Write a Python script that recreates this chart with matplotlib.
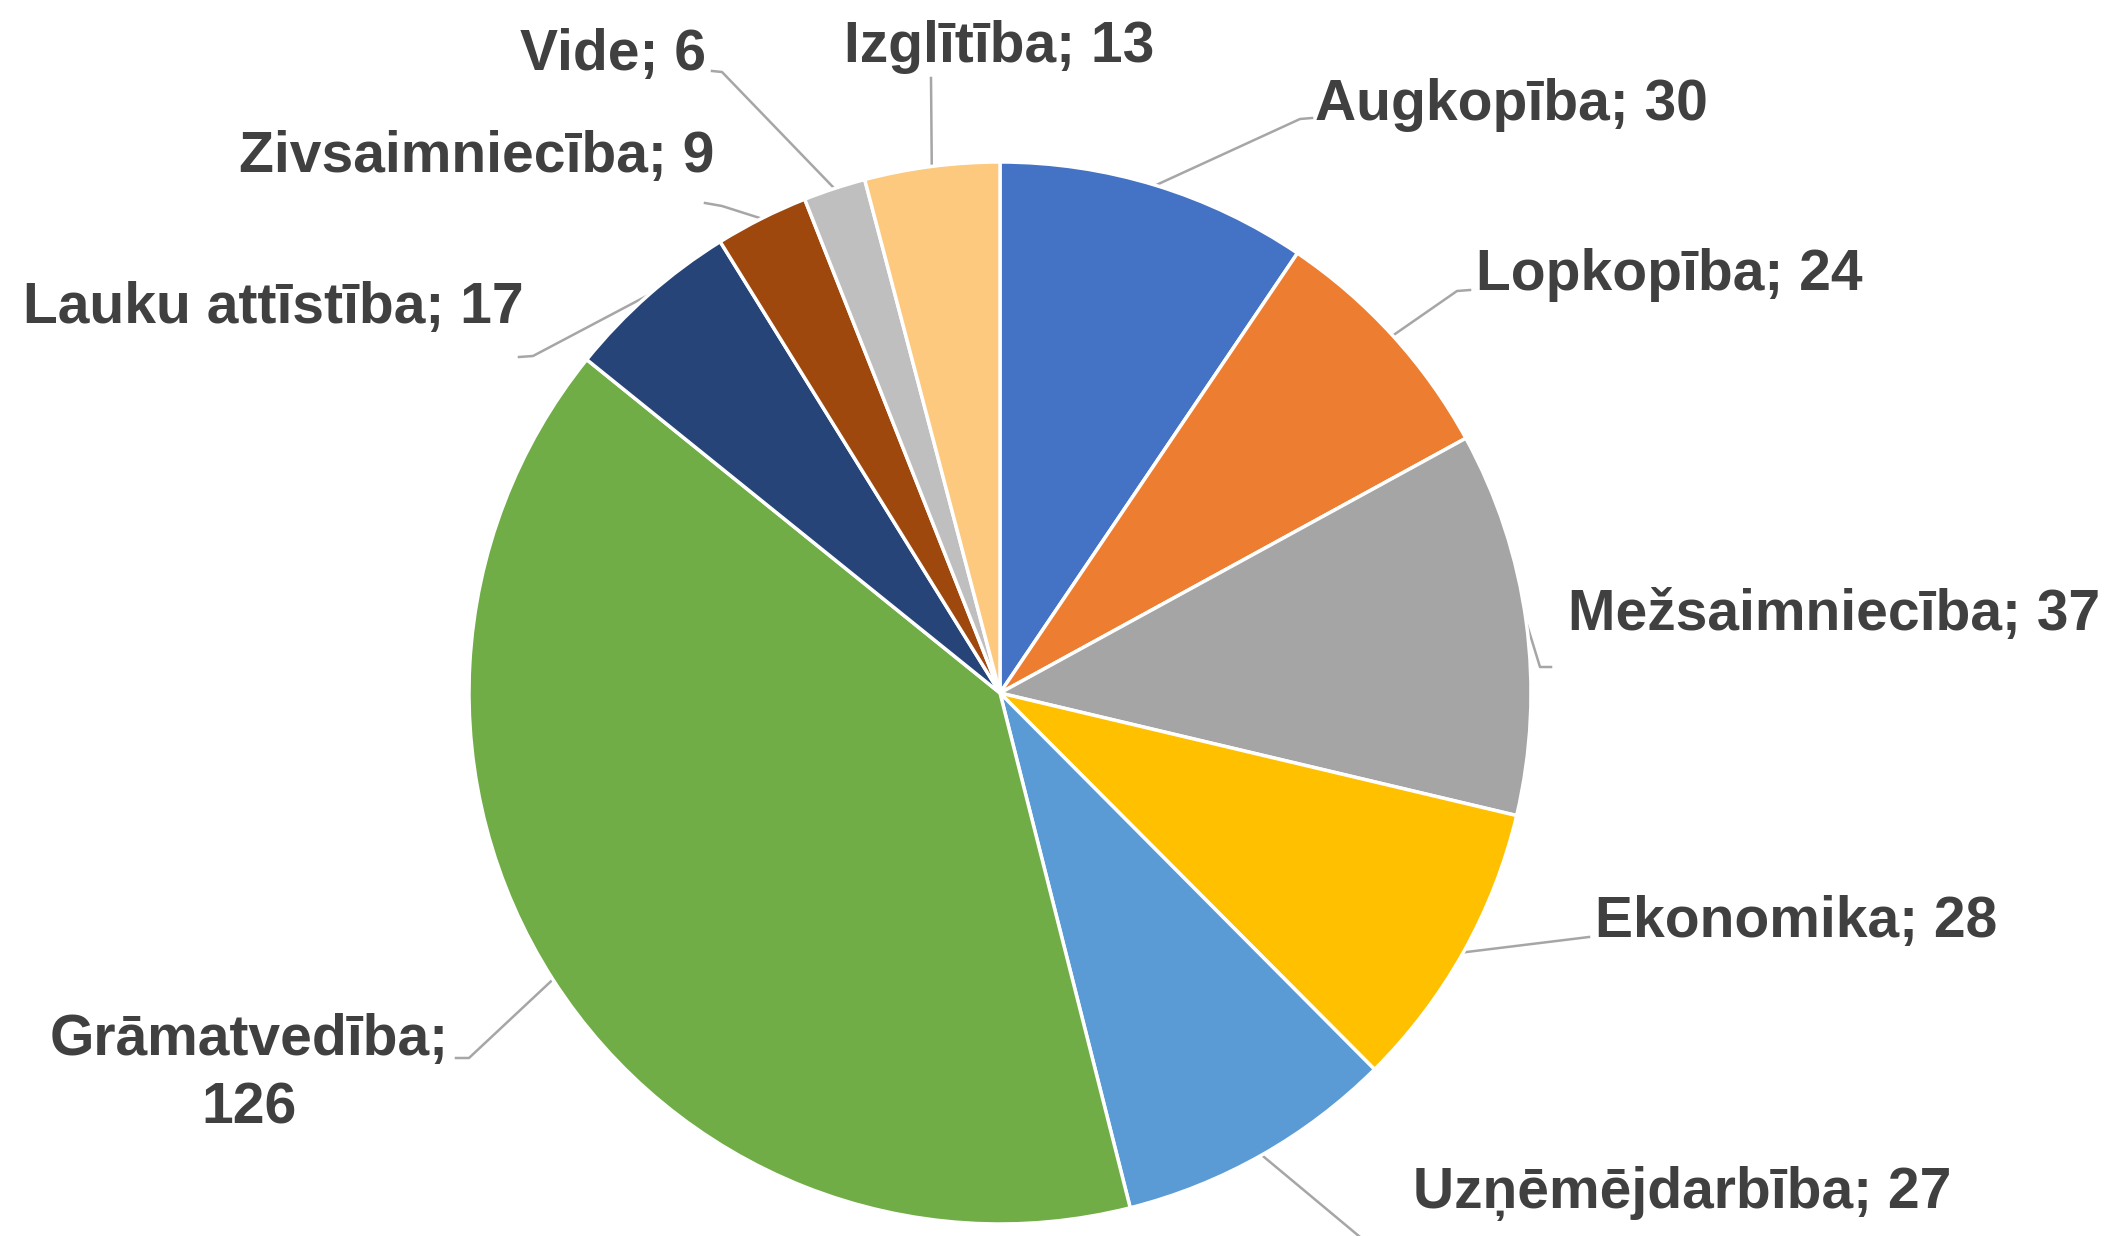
import matplotlib.pyplot as plt
import numpy as np

labels = ['Augkopība', 'Lopkopība', 'Mežsaimniecība', 'Ekonomika', 'Uzņēmējdarbība',
          'Grāmatvedība', 'Lauku attīstība', 'Zivsaimniecība', 'Vide', 'Izglītība']
values = [30, 24, 37, 28, 27, 126, 17, 9, 6, 13]
colors = ['#4472C4', '#ED7D31', '#A5A5A5', '#FFC000', '#5B9BD5',
          '#70AD47', '#264478', '#9E480E', '#BFBFBF', '#FCC97F']

W, H = 2109, 1236

# label layout in pixel coords (top-left origin): text x, baseline y (last line), alignment
text_pos = [(1315, 120, 'left'), (1476, 290, 'left'), (1568, 630, 'left'),
            (1595, 937, 'left'), (1413, 1208, 'left'), (249, 1123, 'center'),
            (524, 323, 'right'), (714, 172, 'right'), (706, 70, 'right'),
            (999, 62, 'center')]
# leader points going from the label towards the pie
leader_pts = [[(1312, 118), (1300, 119)], [(1470, 290), (1457, 291)],
              [(1551, 667), (1540, 667)], [(1589, 937)],
              [(1390, 1262)], [(456, 1058), (469, 1058)],
              [(519, 357), (533, 356)], [(705, 203), (722, 206)],
              [(712, 71), (722, 72)], [(931, 78)]]

fig = plt.figure(figsize=(W / 100, H / 100), dpi=100)
ax = fig.add_axes([0, 0, 1, 1])

cx, cy, r = 1000, H - 693, 531
wedges, _ = ax.pie(values, colors=colors, startangle=90, counterclock=False,
                   center=(cx, cy), radius=r,
                   wedgeprops=dict(edgecolor='white', linewidth=2.5))
ax.set_xlim(0, W)
ax.set_ylim(0, H)
ax.set_aspect('equal')
ax.axis('off')

for i, w in enumerate(wedges):
    mid = np.deg2rad((w.theta1 + w.theta2) / 2)
    ex, ey = cx + r * np.cos(mid), cy + r * np.sin(mid)
    xs = [p[0] for p in leader_pts[i]] + [ex]
    ys = [H - p[1] for p in leader_pts[i]] + [ey]
    ax.plot(xs, ys, color='#A6A6A6', lw=1.8, zorder=0, clip_on=True)

    tx, ty, ha = text_pos[i]
    if labels[i] == 'Grāmatvedība':
        txt = f'{labels[i]};\n{values[i]}'
    else:
        txt = f'{labels[i]}; {values[i]}'
    ax.text(tx, H - ty, txt, ha=ha, va='baseline', multialignment='center',
            fontsize=41, fontweight='bold', color='#404040',
            family='Liberation Sans', linespacing=1.34)

fig.savefig('out.png', dpi=100)
